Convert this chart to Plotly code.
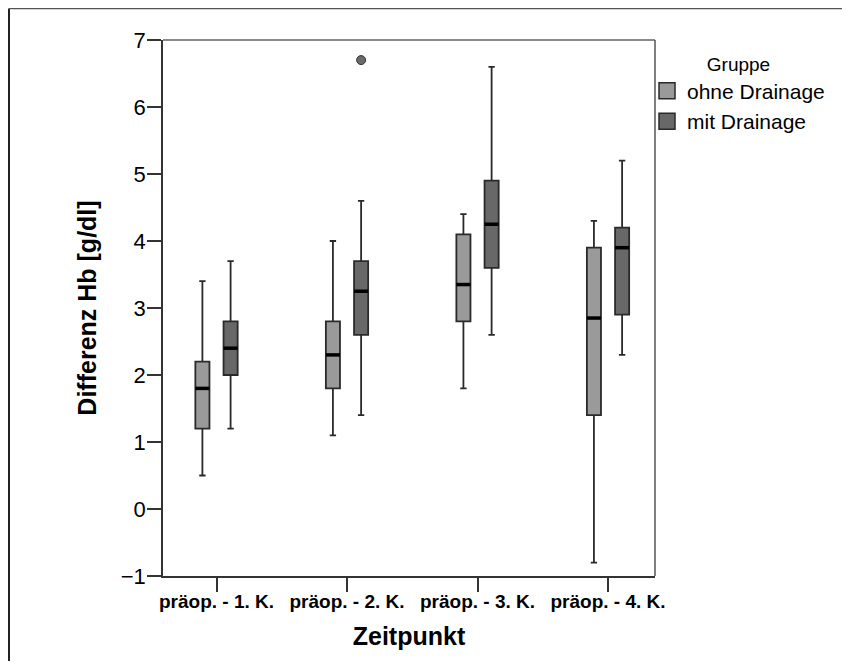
import plotly.graph_objects as go

categories = ["präop. - 1. K.", "präop. - 2. K.", "präop. - 3. K.", "präop. - 4. K."]
groups = ["ohne Drainage", "mit Drainage"]

ohne_low = [0.5, 1.1, 1.8, -0.8]
ohne_q1 = [1.2, 1.8, 2.8, 1.4]
ohne_med = [1.8, 2.3, 3.35, 2.85]
ohne_q3 = [2.2, 2.8, 4.1, 3.9]
ohne_high = [3.4, 4.0, 4.4, 4.3]

mit_low = [1.2, 1.4, 2.6, 2.3]
mit_q1 = [2.0, 2.6, 3.6, 2.9]
mit_med = [2.4, 3.25, 4.25, 3.9]
mit_q3 = [2.8, 3.7, 4.9, 4.2]
mit_high = [3.7, 4.6, 6.6, 5.2]

outlier_cat = [1]
outlier_val = [6.7]

colors = {"ohne Drainage": "#9a9a9a", "mit Drainage": "#686868"}
offset = 0.108
bw = 0.108
font_family = "Liberation Sans, Arial, sans-serif"

fig = go.Figure()
series = [
    ("ohne Drainage", -offset, ohne_low, ohne_q1, ohne_med, ohne_q3, ohne_high),
    ("mit Drainage", offset, mit_low, mit_q1, mit_med, mit_q3, mit_high),
]
for name, off, lo, q1, med, q3, hi in series:
    xs = [i + off for i in range(len(categories))]
    fig.add_trace(go.Box(
        x=xs, q1=q1, median=med, q3=q3, lowerfence=lo, upperfence=hi,
        width=bw, whiskerwidth=0.45, name=name, legendgroup=name, showlegend=False,
        fillcolor=colors[name], line=dict(color="#2a2a2a", width=1.8),
        boxpoints=False, hoverinfo="skip",
    ))
    mx, my = [], []
    for x, m in zip(xs, med):
        mx += [x - bw / 2, x + bw / 2, None]
        my += [m, m, None]
    fig.add_trace(go.Scatter(x=mx, y=my, mode="lines", line=dict(color="black", width=3.5),
                             showlegend=False, hoverinfo="skip"))
    fig.add_trace(go.Scatter(
        x=[None], y=[None], mode="markers", name=name, legendgroup=name,
        marker=dict(symbol="square", size=16, color=colors[name], line=dict(color="#2a2a2a", width=1.5)),
    ))

fig.add_trace(go.Scatter(
    x=[c + offset for c in outlier_cat], y=outlier_val, mode="markers",
    marker=dict(color="#6a6a6a", size=9, line=dict(color="#333333", width=1)),
    showlegend=False, hoverinfo="skip",
))

# page offset of the figure (body margin)
OFF = 8
W, H = 834, 653
L, T = 163 - OFF, 40 - OFF
R = W - (655 - OFF)
B = H - (576 - OFF)
pw, ph = W - L - R, H - T - B

def px_x(page_x):
    return (page_x - OFF - L) / pw

def px_y(page_y):
    return 1 - (page_y - OFF - T) / ph

shapes = [
    dict(type="line", xref="paper", yref="paper", x0=px_x(9), x1=px_x(9), y0=px_y(700), y1=px_y(8.5),
         line=dict(color="#222222", width=2)),
    dict(type="line", xref="paper", yref="paper", x0=px_x(9), x1=px_x(870), y0=px_y(8.5), y1=px_y(8.5),
         line=dict(color="#555555", width=1.5)),
    dict(type="line", xref="paper", yref="paper", x0=0, x1=1, y0=1, y1=1,
         line=dict(color="#8a8a8a", width=2)),
    dict(type="line", xref="paper", yref="paper", x0=1, x1=1, y0=0, y1=1,
         line=dict(color="#555555", width=1.5)),
]

fig.update_layout(
    width=W, height=H,
    margin=dict(l=L, r=R, t=T, b=B, autoexpand=False),
    paper_bgcolor="white", plot_bgcolor="white",
    font=dict(family=font_family, color="black"),
    boxmode="overlay",
    showlegend=True,
    legend=dict(
        title=dict(text="Gruppe", side="top center", font=dict(size=19)),
        font=dict(size=21), x=px_x(647), xanchor="left", y=px_y(46), yanchor="top",
        bgcolor="rgba(0,0,0,0)", itemwidth=30, tracegroupgap=0,
    ),
    shapes=shapes,
    xaxis=dict(
        tickmode="array", tickvals=list(range(len(categories))), ticktext=categories,
        range=[-0.41, 3.36], showgrid=False, zeroline=False,
        showline=True, linecolor="#333333", linewidth=1.5,
        ticks="outside", ticklen=14, tickcolor="#333333", tickwidth=1.5,
        ticklabelstandoff=-7,
        tickfont=dict(size=19, family=font_family, weight="bold"),
        title=dict(text="<b>Zeitpunkt</b>", font=dict(size=25), standoff=17),
        automargin=False,
    ),
    yaxis=dict(
        range=[-1, 7], tickvals=list(range(-1, 8)), showgrid=False, zeroline=False,
        showline=True, linecolor="#333333", linewidth=1.5,
        ticks="outside", ticklen=14, tickcolor="#333333", tickwidth=1.5,
        ticklabelstandoff=-3,
        tickfont=dict(size=22),
        title=dict(text="<b>Differenz Hb [g/dl]</b>", font=dict(size=25), standoff=17),
        automargin=False,
    ),
)

fig.write_html("out.html", config={"displayModeBar": False})
